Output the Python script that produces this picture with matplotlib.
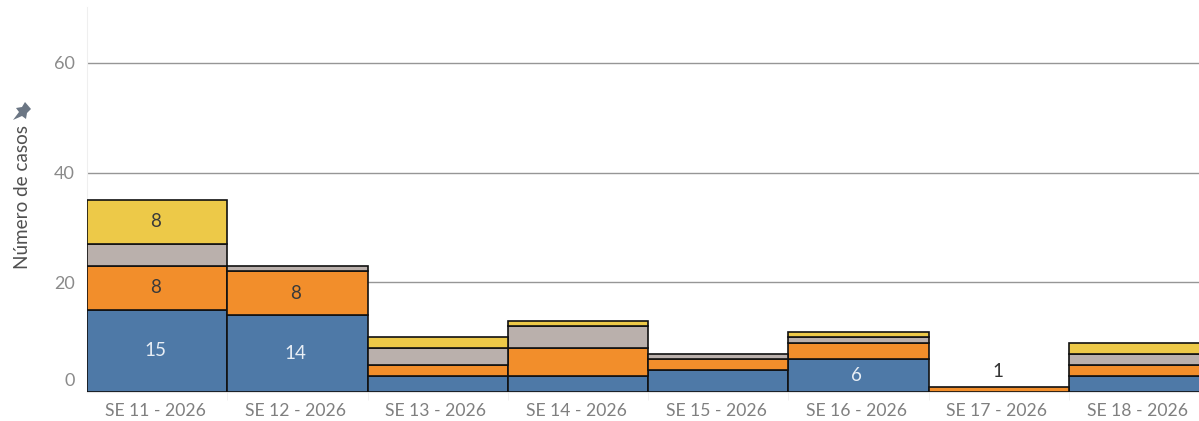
import numpy as np
import matplotlib.pyplot as plt
from matplotlib.patches import Polygon
from matplotlib.transforms import ScaledTranslation

plt.rcParams['font.family'] = ['Lato', 'DejaVu Sans']

semanas = ['SE 11 - 2026', 'SE 12 - 2026', 'SE 13 - 2026', 'SE 14 - 2026',
           'SE 15 - 2026', 'SE 16 - 2026', 'SE 17 - 2026', 'SE 18 - 2026']

# stacked from the bottom up
azul = [15, 14, 3, 3, 4, 6, 0, 3]
naranja = [8, 8, 2, 5, 2, 3, 1, 2]
gris = [4, 1, 3, 4, 1, 1, 0, 2]
amarillo = [8, 0, 2, 1, 0, 1, 0, 2]

# which values carry a label in the original
etiquetas_azul = ['15', '14', '', '', '', '6', '', '']
etiquetas_naranja = ['8', '8', '', '', '', '', '', '']
etiquetas_amarillo = ['8', '', '', '', '', '', '', '']

y_ticks = [0, 20, 40, 60]

fig = plt.figure(figsize=(11.99, 4.21), dpi=100)
ax = fig.add_axes([87 / 1199, (421 - 392) / 421, (1199 - 87) / 1199, (392 - 7) / 421])

x = np.arange(len(semanas))
base = np.zeros(len(semanas))
series = [(azul, '#4e79a7', etiquetas_azul, '#e8eef5'),
          (naranja, '#f28e2b', etiquetas_naranja, '#3a3a3a'),
          (gris, '#bab0ac', None, None),
          (amarillo, '#edc948', etiquetas_amarillo, '#3a3a3a')]

# labels sit about 2 px left of the bar centres
izq = ScaledTranslation(-2 / 100, 0, fig.dpi_scale_trans)

for valores, color, etiquetas, color_txt in series:
    valores = np.array(valores)
    m = valores > 0
    ax.bar(x[m], valores[m], bottom=base[m], width=1.0, color=color,
           edgecolor='#111111', linewidth=1.2, zorder=3)
    if etiquetas:
        for i, et in enumerate(etiquetas):
            if et:
                ax.text(x[i], base[i] + valores[i] / 2, et, ha='center', va='center',
                        fontsize=13.5, color=color_txt, zorder=4, transform=ax.transData + izq)
    base = base + valores

# the lone SE 17 total sits above its bar
ax.annotate(str(naranja[6]), (x[6], naranja[6]), xytext=(-1, 4.5), textcoords='offset points',
            ha='center', va='bottom', fontsize=13.5, color='#333333', zorder=4)

ax.set_xlim(-0.5, 7.426)
ax.set_ylim(0, 70.2)
ax.set_yticks(y_ticks)
ax.set_xticks(x)
ax.set_xticklabels(semanas)
ax.set_xticks(x[:-1] + 0.5, minor=True)
ax.yaxis.grid(True, color='#969696', linewidth=1.0, zorder=1)
ax.set_axisbelow(True)

for lado in ['top', 'right']:
    ax.spines[lado].set_visible(False)
ax.spines['left'].set_color('#efefef')
ax.spines['bottom'].set_color('#e6e6e6')

ax.tick_params(axis='x', which='major', length=0, pad=8, labelsize=12.6, labelcolor='#7f7f7f')
ax.tick_params(axis='x', which='minor', length=6, color='#efefef')
ax.tick_params(axis='y', length=0, pad=9, labelsize=13, labelcolor='#8a8a8a')

for lbl in ax.get_xticklabels():
    lbl.set_transform(lbl.get_transform() + izq)

# the zero label is nudged up so it stays inside the pane
lbl_cero = ax.get_yticklabels()[0]
lbl_cero.set_transform(lbl_cero.get_transform() + ScaledTranslation(0, 13 / 100, fig.dpi_scale_trans))

fig.text(23 / 1199, 1 - 197 / 421, 'Número de casos', rotation=90, ha='center', va='center',
         fontsize=13.6, color='#505050')

# pin icon
pin = np.array([[13, 120], [19, 112], [16, 108], [22, 107], [25, 102], [31, 109],
                [27, 113], [26, 119], [22, 116]], dtype=float)
pin[:, 1] = 421 - pin[:, 1]
fig.add_artist(Polygon(pin, closed=True, transform=None, facecolor='#6b7684', edgecolor='none'))

fig.savefig('out.png', dpi=100)
